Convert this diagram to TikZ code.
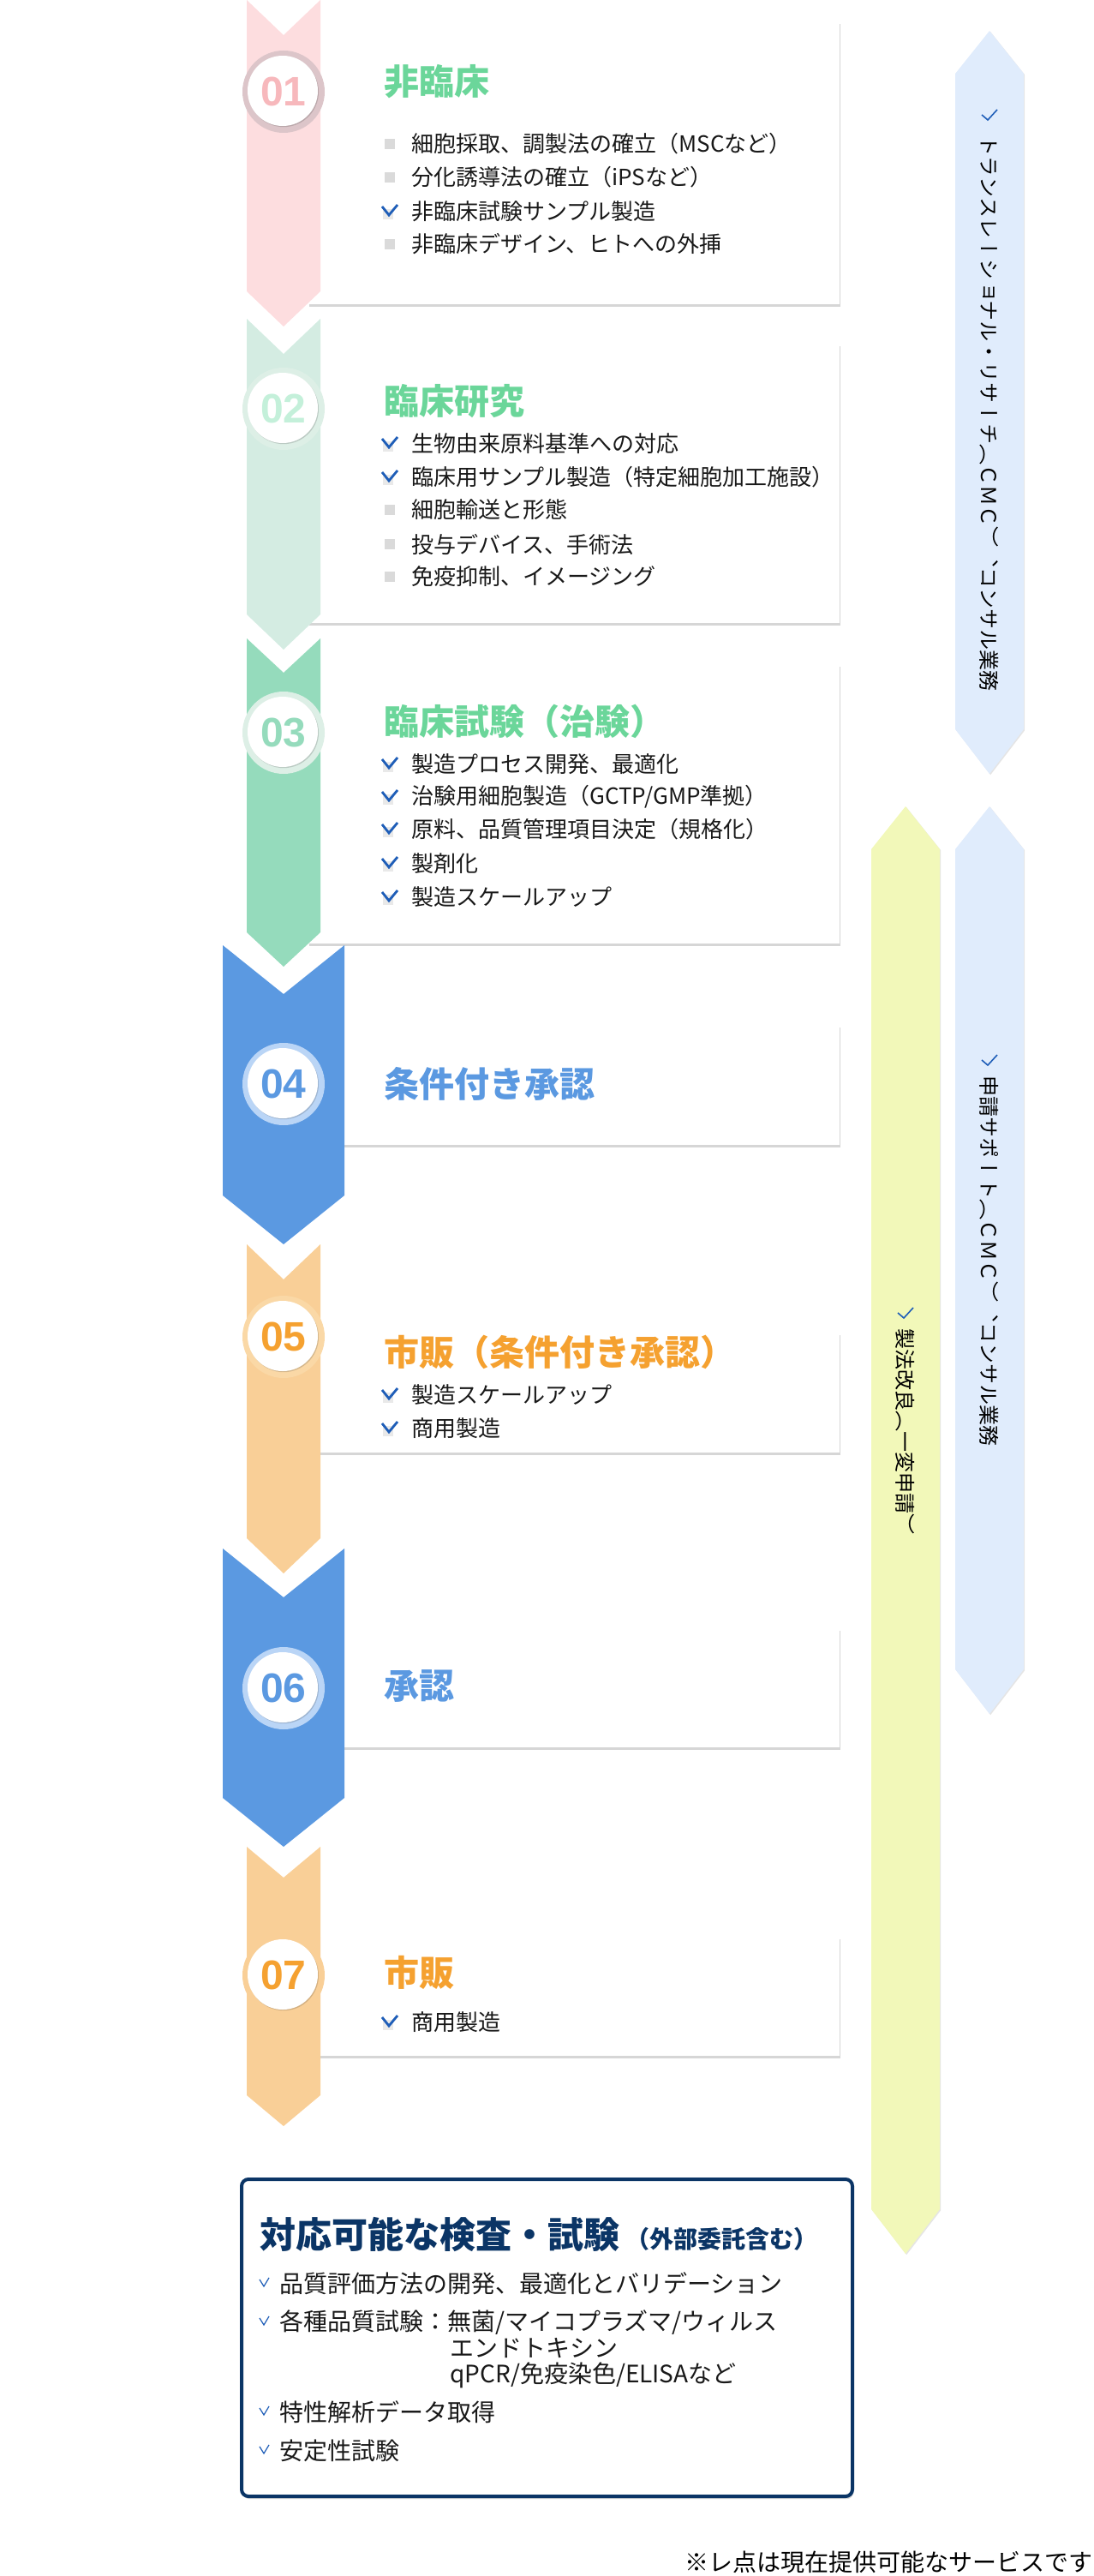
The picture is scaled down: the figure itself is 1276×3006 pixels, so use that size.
\documentclass[tikz,border=0pt]{standalone}
\usepackage{fontspec}
\setmainfont{Noto Sans CJK JP}
\newfontfamily\numfont{Liberation Sans}
\newfontfamily\vertfont[Vertical=RotatedGlyphs]{Noto Sans CJK JP}
\usetikzlibrary{shadows}

\definecolor{pinkstrip}{HTML}{FDDDDF}
\definecolor{pinkring}{HTML}{DCC5C9}
\definecolor{pinknum}{HTML}{F7B8BC}
\definecolor{mintpale}{HTML}{D4ECE2}
\definecolor{mintring}{HTML}{DDEFE6}
\definecolor{mintnum}{HTML}{C4F0DA}
\definecolor{mint}{HTML}{95DBBC}
\definecolor{greentitle}{HTML}{6BD69A}
\definecolor{bluestep}{HTML}{5B99E1}
\definecolor{bluering}{HTML}{BAD5F6}
\definecolor{orangestrip}{HTML}{F9CF97}
\definecolor{orangering}{HTML}{FAD8A6}
\definecolor{orangetext}{HTML}{F5A130}
\definecolor{checkblue}{HTML}{1F5EB8}
\definecolor{bulletgray}{HTML}{DADADA}
\definecolor{bandblue}{HTML}{E0ECFC}
\definecolor{bandyellow}{HTML}{F2F8B9}
\definecolor{navy}{HTML}{0B3566}

\tikzset{
  boxshadow/.style={drop shadow={shadow xshift=0.6pt, shadow yshift=-1.6pt, fill=black, opacity=0.16}},
  stepbox/.style={fill=white, boxshadow},
  steptitle/.style={anchor=west, inner sep=0pt, font=\bfseries\fontsize{20.5}{24}\selectfont},
  stepitem/.style={anchor=west, inner sep=0pt, text=black!90, font=\fontsize{13}{15}\selectfont},
  stepnum/.style={inner sep=0pt, font=\numfont\bfseries\fontsize{24}{24}\selectfont},
  banditem/.style={anchor=west, inner sep=0pt, rotate=-90, font=\vertfont\fontsize{12}{12}\selectfont},
  testitem/.style={anchor=west, inner sep=0pt, text=black!90, font=\fontsize{14}{16}\selectfont},
  pics/sqbullet/.style={code={\fill[bulletgray] (-6,-6) rectangle (6,6);}},
  pics/ckbullet/.style={code={
    \fill[bulletgray!60] (-8,-3) rectangle (4,9);
    \draw[checkblue, line width=1.4pt] (-9,-6) -- (-1,4) -- (9,-8);}},
}

% colour, centre x, half width, top, bottom, depth
\newcommand{\stepstrip}[6]{%
  \fill[#1] (#2-#3,#4) -- (#2,#4+#6) -- (#2+#3,#4) -- (#2+#3,#5)
    -- (#2,#5+#6) -- (#2-#3,#5) -- cycle;}
% name, centre y, ring, number colour, number
\newcommand{\stepbadge}[5]{%
  \fill[#3] (331,#2) circle[radius=48];
  \fill[white, drop shadow={shadow xshift=0.5pt, shadow yshift=-0.6pt, fill=#3!70!black, opacity=0.5}]
    (330,#2-1) circle[radius=41];
  \node[stepnum, text=#4] (#1) at (331,#2) {#5};}
% colour, centre x, top, bottom, check y
\newcommand{\sideband}[5]{%
  \fill[#1, drop shadow={shadow xshift=0.6pt, shadow yshift=-0.6pt, fill=black, opacity=0.1}]
    (#2,#3) -- (#2+40,#3+50) -- (#2+40,#4-52) -- (#2,#4) -- (#2-40,#4-52) -- (#2-40,#3+50) -- cycle;
  \draw[checkblue, line width=0.8pt] (#2-9,#5+1) -- (#2-2,#5+7) -- (#2+9,#5-5);}

\begin{document}
\begin{tikzpicture}[x=0.5pt, y=-0.5pt]
\useasboundingbox (0,0) rectangle (1276,3006);

% side bands
\sideband{bandblue}{1155}{36}{903}{133}
\sideband{bandblue}{1155}{941}{2000}{1236}
\sideband{bandyellow}{1057}{941}{2630}{1531}

% step boxes
\path[stepbox] (360,25) rectangle (980,355);
\path[stepbox] (360,401) rectangle (980,727);
\path[stepbox] (360,775) rectangle (980,1101);
\path[stepbox] (360,1196) rectangle (980,1336);
\path[stepbox] (360,1555) rectangle (980,1695);
\path[stepbox] (360,1900) rectangle (980,2039);
\path[stepbox] (360,2260) rectangle (980,2399);

% chevrons
\stepstrip{pinkstrip}{331}{43}{0}{340}{41}
\stepstrip{mintpale}{331}{43}{372}{717}{41}
\stepstrip{mint}{331}{43}{745}{1088}{40}
\stepstrip{bluestep}{331}{71}{1103}{1395}{57}
\stepstrip{orangestrip}{331}{43}{1452}{1795}{41}
\stepstrip{bluestep}{331}{71}{1807}{2098}{57}
\stepstrip{orangestrip}{331}{43}{2155}{2445}{36}

\stepbadge{n1}{107}{pinkring}{pinknum}{01}
\stepbadge{n2}{477}{mintring}{mintnum}{02}
\stepbadge{n3}{855}{mintring}{mint}{03}
\stepbadge{n4}{1265}{bluering}{bluestep}{04}
\stepbadge{n5}{1560}{orangering}{orangetext}{05}
\stepbadge{n6}{1970}{bluering}{bluestep}{06}
\stepbadge{n7}{2305}{orangestrip}{orangetext}{07}

% 01
\node[steptitle, text=greentitle] (t1) at (448,95) {非臨床};
\foreach \ty/\mk/\tx [count=\i] in {168/sq/{細胞採取、調製法の確立（MSCなど）},
    207/sq/{分化誘導法の確立（iPSなど）}, 247/ck/{非臨床試験サンプル製造},
    285/sq/{非臨床デザイン、ヒトへの外挿}} {
  \pic at (455,\ty) {\mk bullet};
  \node[stepitem] (a\i) at (480,\ty) {\tx};
}
% 02
\node[steptitle, text=greentitle] (t2) at (448,468) {臨床研究};
\foreach \ty/\mk/\tx [count=\i] in {518/ck/{生物由来原料基準への対応},
    557/ck/{臨床用サンプル製造（特定細胞加工施設）}, 595/sq/{細胞輸送と形態},
    635/sq/{投与デバイス、手術法}, 673/sq/{免疫抑制、イメージング}} {
  \pic at (455,\ty) {\mk bullet};
  \node[stepitem] (b\i) at (480,\ty) {\tx};
}
% 03
\node[steptitle, text=greentitle] (t3) at (448,842) {臨床試験（治験）};
\foreach \ty/\tx [count=\i] in {892/{製造プロセス開発、最適化},
    930/{治験用細胞製造（GCTP/GMP準拠）}, 968/{原料、品質管理項目決定（規格化）},
    1008/{製剤化}, 1047/{製造スケールアップ}} {
  \pic at (455,\ty) {ckbullet};
  \node[stepitem] (c\i) at (480,\ty) {\tx};
}
% 04
\node[steptitle, text=bluestep] (t4) at (448,1265) {条件付き承認};
% 05
\node[steptitle, text=orangetext] (t5) at (448,1578) {市販（条件付き承認）};
\foreach \ty/\tx [count=\i] in {1628/{製造スケールアップ}, 1667/{商用製造}} {
  \pic at (455,\ty) {ckbullet};
  \node[stepitem] (e\i) at (480,\ty) {\tx};
}
% 06
\node[steptitle, text=bluestep] (t6) at (448,1968) {承認};
% 07
\node[steptitle, text=orangetext] (t7) at (448,2302) {市販};
\pic at (455,2360) {ckbullet};
\node[stepitem] (g1) at (480,2360) {商用製造};

% band texts
\node[banditem] (s1) at (1155,158) {トランスレーショナル・リサーチ（ＣＭＣ）、コンサル業務};
\node[banditem] (s2) at (1155,1255) {申請サポート（ＣＭＣ）、コンサル業務};
\node[banditem] (s3) at (1057,1550) {製法改良（一変申請）};

% tests box
\draw[navy, line width=2pt, rounded corners=4pt, fill=white, boxshadow] (282,2543) rectangle (995,2913);
\node[anchor=west, inner sep=0pt, text=navy, font=\bfseries\fontsize{21}{24}\selectfont] (q0) at (303,2607) {対応可能な検査・試験};
\node[anchor=base west, inner sep=0pt, text=navy, font=\bfseries\fontsize{14}{16}\selectfont] (q0b) at ([xshift=3pt]q0.base east) {（外部委託含む）};
\foreach \ty/\tx [count=\i] in {2665/{品質評価方法の開発、最適化とバリデーション},
    2710/{各種品質試験：無菌/マイコプラズマ/ウィルス}, 2815/{特性解析データ取得}, 2860/{安定性試験}} {
  \draw[checkblue, line width=0.6pt] (303,\ty-5) -- (308,\ty+3) -- (314,\ty-7);
  \node[testitem] (q\i) at (326,\ty) {\tx};
}
\node[testitem] (q2b) at (525,2740) {エンドトキシン};
\node[testitem] (q2c) at (525,2772) {qPCR/免疫染色/ELISAなど};

\node[anchor=east, inner sep=0pt, font=\fontsize{14}{16}\selectfont] (note) at (1276,2990) {※レ点は現在提供可能なサービスです};
\end{tikzpicture}
\end{document}
